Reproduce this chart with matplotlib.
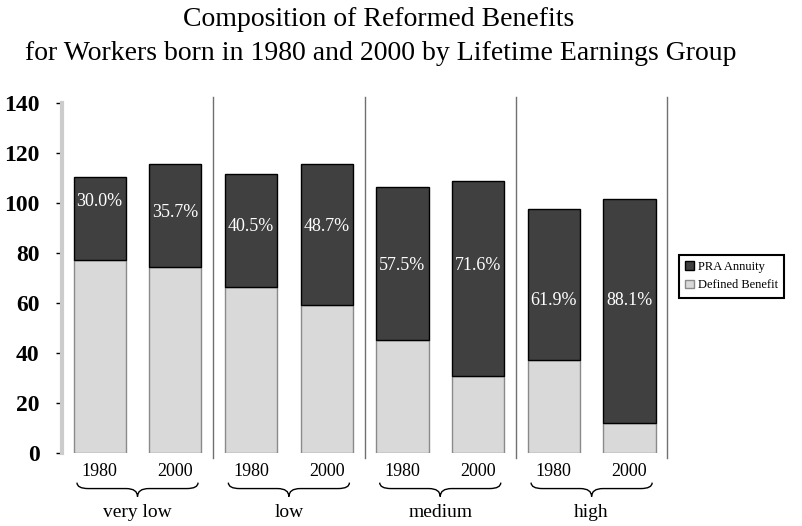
import matplotlib.pyplot as plt
import matplotlib.transforms as mtransforms
from matplotlib.path import Path
from matplotlib.patches import PathPatch

plt.rcParams['font.family'] = ['Liberation Serif', 'DejaVu Serif']

# benefits data
groups = ['very low', 'low', 'medium', 'high']
years = ['1980', '2000']
totals = [110.4, 115.6, 111.6, 115.6, 106.4, 108.8, 97.6, 101.6]
pra_share = [30.0, 35.7, 40.5, 48.7, 57.5, 71.6, 61.9, 88.1]
label_pos = [100.8, 96.4, 90.8, 90.8, 74.8, 74.8, 60.8, 60.8]

DARK = '#404040'
LIGHT = '#d9d9d9'


def add_brace(ax, x0, x1, top=-0.085, mid=-0.102, tip=-0.125, d=0.15):
    trans = mtransforms.blended_transform_factory(ax.transData, ax.transAxes)
    xc = (x0 + x1) / 2
    verts = [(x0, top), (x0, mid), (x0 + d, mid),
             (xc - d, mid), (xc, mid), (xc, tip),
             (xc, mid), (xc + d, mid),
             (x1 - d, mid), (x1, mid), (x1, top)]
    codes = [Path.MOVETO, Path.CURVE3, Path.CURVE3,
             Path.LINETO, Path.CURVE3, Path.CURVE3,
             Path.CURVE3, Path.CURVE3,
             Path.LINETO, Path.CURVE3, Path.CURVE3]
    patch = PathPatch(Path(verts, codes), fill=False, lw=1.0, color='black',
                      transform=trans, clip_on=False)
    ax.add_patch(patch)


def main():
    fig = plt.figure(figsize=(8.03, 5.26), dpi=100)
    ax = fig.add_axes([0.077, 0.139, 0.754, 0.665])

    x = list(range(len(totals)))
    pra = [t * s / 100 for t, s in zip(totals, pra_share)]
    db = [t - p for t, p in zip(totals, pra)]

    ax.bar(x, db, width=0.69, color=LIGHT, edgecolor='#8a8a8a', lw=1.0,
           label='Defined Benefit', zorder=2)
    ax.bar(x, pra, bottom=db, width=0.69, color=DARK, edgecolor='black',
           lw=1.0, label='PRA Annuity', zorder=2)

    for xi, s, yp in zip(x, pra_share, label_pos):
        ax.text(xi, yp, f'{s:.1f}%', color='white', ha='center', va='center',
                fontsize=13, zorder=3)

    # group separators
    for sep in [1.5, 3.5, 5.5, 7.5]:
        ax.plot([sep, sep], [-2, 142.5], color='#707070', lw=1.0,
                clip_on=False, zorder=1)

    ax.set_xlim(-0.5, 7.5)
    ax.set_ylim(0, 140)
    ax.set_yticks(range(0, 141, 20))
    ax.tick_params(axis='y', labelsize=17, length=4, width=1, pad=12)
    for lbl in ax.get_yticklabels():
        lbl.set_fontweight('bold')
    ax.set_xticks([])

    for side in ['top', 'right', 'bottom']:
        ax.spines[side].set_visible(False)
    ax.spines['left'].set_color('#cccccc')
    ax.spines['left'].set_linewidth(3)

    trans = mtransforms.blended_transform_factory(ax.transData, ax.transAxes)
    for i, g in enumerate(groups):
        a, b = 2 * i, 2 * i + 1
        ax.text(a, -0.052, years[0], transform=trans, ha='center', va='center',
                fontsize=13)
        ax.text(b, -0.052, years[1], transform=trans, ha='center', va='center',
                fontsize=13)
        add_brace(ax, a - 0.3, b + 0.3)
        ax.text((a + b) / 2, -0.17, g, transform=trans, ha='center',
                va='center', fontsize=14)

    handles, labels = ax.get_legend_handles_labels()
    leg = fig.legend(handles[::-1], labels[::-1], loc='center left',
                     bbox_to_anchor=(0.838, 0.475), fontsize=9,
                     fancybox=False, framealpha=1, edgecolor='black',
                     handlelength=0.7, handleheight=0.7, handletextpad=0.3,
                     borderpad=0.5, labelspacing=0.5)
    leg.get_frame().set_linewidth(1.5)

    fig.text(0.472, 0.962, 'Composition of Reformed Benefits',
             ha='center', va='center', fontsize=20)
    fig.text(0.474, 0.899,
             'for Workers born in 1980 and 2000 by Lifetime Earnings Group',
             ha='center', va='center', fontsize=20)

    fig.savefig('out.png', dpi=100)


if __name__ == '__main__':
    main()
